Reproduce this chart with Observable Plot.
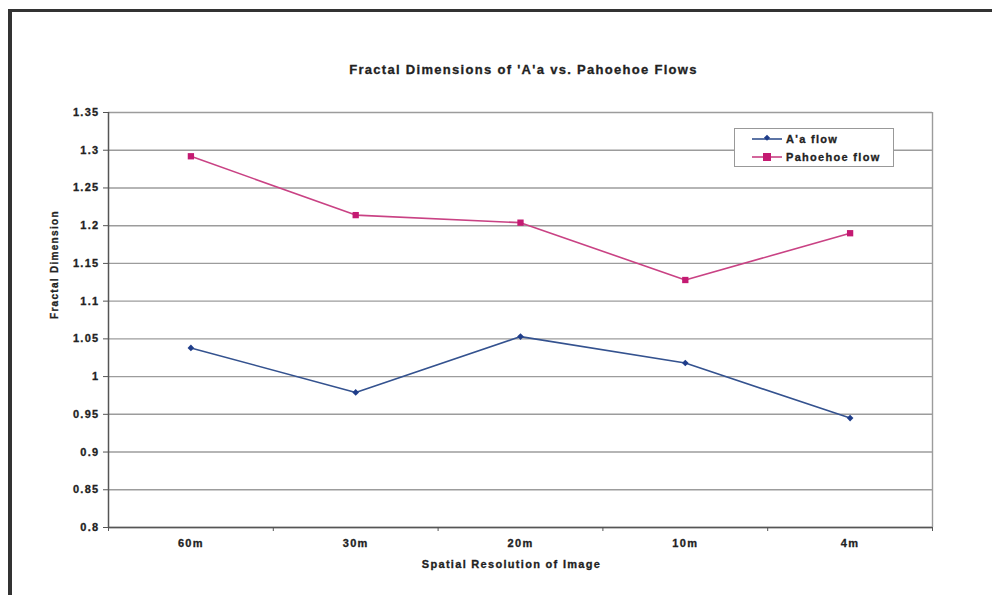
<!DOCTYPE html>
<html>
<head>
<meta charset="utf-8">
<script src="https://cdn.jsdelivr.net/npm/d3@7"></script>
<script src="https://cdn.jsdelivr.net/npm/@observablehq/plot@0.6"></script>
<style>
  html, body { margin: 0; padding: 0; background: #fff; }
  #page { position: relative; width: 992px; height: 595px; overflow: hidden; }
  #frame {
    position: absolute; left: 8px; top: 9px; right: -10px; bottom: -10px;
    border-top: 3px solid #333; border-left: 4px solid #333;
  }
  #chart { position: absolute; left: 0; top: 0; }
  #chart svg text { stroke: #222; stroke-width: 0.3px; }
  #legend {
    position: absolute; left: 734px; top: 128px; width: 158px; height: 37px;
    border: 1px solid #999; background: #fff;
    font: bold 11px "Liberation Sans", Arial, sans-serif; letter-spacing: 1.3px; color: #222;
    -webkit-text-stroke: 0.3px #222;
  }
  .item { position: absolute; left: 17px; height: 14px; display: flex; align-items: center; }
  .item svg { margin-right: 4px; }
</style>
</head>
<body>
<div id="page">
  <div id="frame"></div>
  <div id="chart"></div>
  <div id="legend"></div>
</div>
<script>
// Fractal dimension measured at each image resolution
const categories = ["60m", "30m", "20m", "10m", "4m"];
const aaFlow = [1.038, 0.979, 1.053, 1.018, 0.945];
const pahoehoeFlow = [1.292, 1.214, 1.204, 1.128, 1.190];

const seriesNames = ["A'a flow", "Pahoehoe flow"];
const lineColors = ["#34528f", "#c94284"];
const markColors = ["#1f3d8a", "#c41a72"];
const markSymbols = ["diamond2", "square"];

const yTicks = [0.8, 0.85, 0.9, 0.95, 1, 1.05, 1.1, 1.15, 1.2, 1.25, 1.3, 1.35];
const yTickLabels = ["0.8", "0.85", "0.9", "0.95", "1", "1.05", "1.1", "1.15", "1.2", "1.25", "1.3", "1.35"];

const title = "Fractal Dimensions of 'A'a vs. Pahoehoe Flows";
const xTitle = "Spatial Resolution of Image";
const yTitle = "Fractal Dimension";

// Long-format rows: one per series per category index
const rows = [];
[aaFlow, pahoehoeFlow].forEach((values, s) => {
  values.forEach((v, i) => rows.push({series: seriesNames[s], s, i, v}));
});

const xDomain = [-0.5, categories.length - 0.5];
const yDomain = [yTicks[0], yTicks[yTicks.length - 1]];
const categoryTicks = categories.map((_, i) => i);
const boundaryTicks = d3.range(categories.length + 1).map(i => i - 0.5);

const chart = Plot.plot({
  width: 992,
  height: 595,
  marginLeft: 108,
  marginRight: 60,
  marginTop: 112,
  marginBottom: 68,
  style: {
    fontFamily: "'Liberation Sans', Arial, sans-serif",
    fontSize: "11px",
    fontWeight: "bold",
    letterSpacing: "1.3px",
    color: "#222",
    background: "transparent",
    overflow: "visible"
  },
  x: {type: "linear", domain: xDomain},
  y: {type: "linear", domain: yDomain},
  marks: [
    Plot.gridY(yTicks, {stroke: "#9c9c9c", strokeOpacity: 1, strokeWidth: 1.4}),
    Plot.ruleX([xDomain[1]], {stroke: "#9c9c9c", strokeWidth: 1.4}),
    Plot.ruleX([xDomain[0]], {stroke: "#555", strokeWidth: 1.5}),
    Plot.ruleY([yDomain[0]], {stroke: "#555", strokeWidth: 1.5}),
    Plot.axisY({
      ticks: yTicks,
      tickSize: 5,
      tickPadding: 4,
      stroke: "#555",
      tickFormat: d => yTickLabels[yTicks.indexOf(d)],
      label: null
    }),
    Plot.axisX({
      ticks: categoryTicks,
      tickSize: 0,
      tickPadding: 12,
      tickFormat: i => categories[i],
      label: null
    }),
    Plot.axisX({
      ticks: boundaryTicks,
      tickSize: 4,
      stroke: "#555",
      tickFormat: () => "",
      label: null
    }),
    Plot.line(rows, {
      x: "i", y: "v", z: "series",
      stroke: d => lineColors[d.s],
      strokeWidth: 1.6
    }),
    Plot.dot(rows, {
      x: "i", y: "v",
      symbol: d => markSymbols[d.s],
      fill: d => markColors[d.s],
      r: d => d.s === 0 ? 3.2 : 4.5,
      stroke: "none"
    }),
    Plot.text([title], {
      text: d => d, frameAnchor: "top", lineAnchor: "middle", dy: -43, dx: 3,
      fontSize: 13, letterSpacing: 1.9, fill: "#222"
    }),
    Plot.text([xTitle], {
      text: d => d, frameAnchor: "bottom", lineAnchor: "middle", dy: 37, dx: -9,
      fontSize: 11, fill: "#222"
    }),
    Plot.text([yTitle], {
      text: d => d, frameAnchor: "left", dx: -54, dy: -1, rotate: -90,
      fontSize: 10, letterSpacing: 0.8, fill: "#222"
    })
  ]
});
chart.setAttribute("fill", "#222");
document.getElementById("chart").appendChild(chart);

// Legend: line sample with marker, then series name
const legend = document.getElementById("legend");
seriesNames.forEach((name, s) => {
  const item = document.createElement("div");
  item.className = "item";
  item.style.top = (s === 0 ? 3 : 21) + "px";
  const size = s === 0 ? 6 : 8;
  const marker = s === 0
    ? `<rect x="${15 - size / 2}" y="${7 - size / 2}" width="${size * 0.72}" height="${size * 0.72}" transform="rotate(45 15 7)" fill="${markColors[s]}"/>`
    : `<rect x="${15 - size / 2}" y="${7 - size / 2}" width="${size}" height="${size}" fill="${markColors[s]}"/>`;
  item.innerHTML =
    `<svg width="30" height="14"><line x1="0" x2="30" y1="7" y2="7" stroke="${lineColors[s]}" stroke-width="1.6"/>${marker}</svg><span>${name}</span>`;
  legend.appendChild(item);
});
</script>
</body>
</html>
